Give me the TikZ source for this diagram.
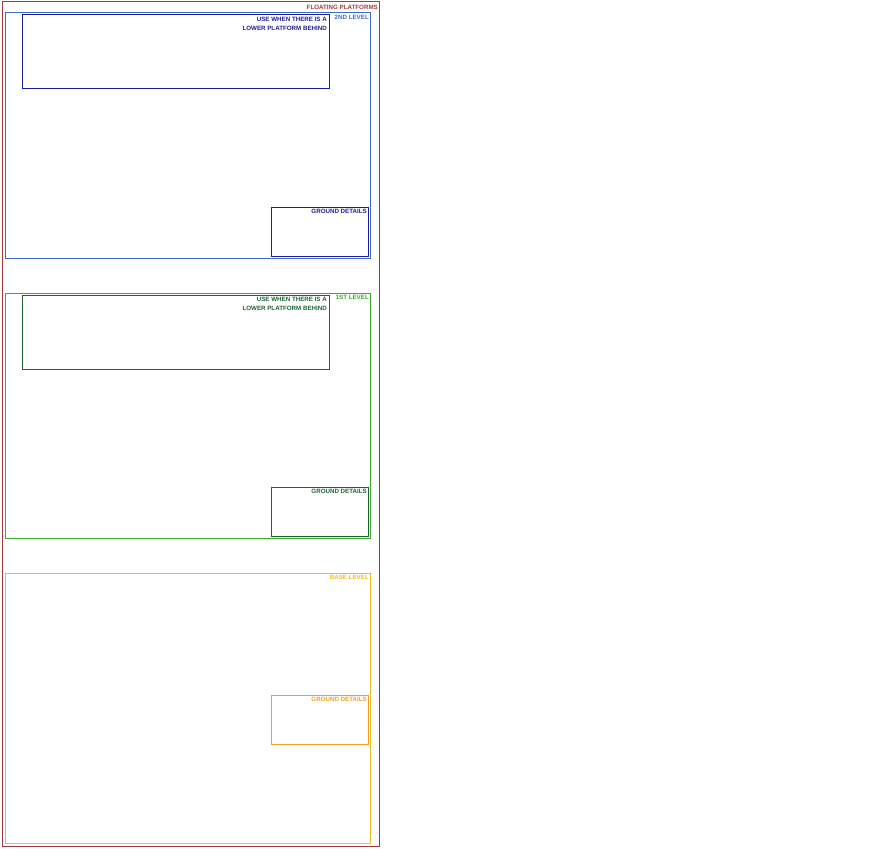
\documentclass[tikz,border=0pt]{standalone}
\usepackage{fontspec}
\setsansfont{Liberation Sans}
\usetikzlibrary{positioning}

\definecolor{frameRed}{HTML}{A03C3C}
\definecolor{lvlBlue}{HTML}{3C6CC8}
\definecolor{navy}{HTML}{1E1E96}
\definecolor{lvlGreen}{HTML}{3CA82C}
\definecolor{darkGreen}{HTML}{1E6432}
\definecolor{lvlYellow}{HTML}{F0BE1E}
\definecolor{groundOrange}{HTML}{F0A028}

\begin{document}
\begin{tikzpicture}[
        x=1pt, y=-1pt,
        box/.style={draw, rectangle, inner sep=0pt, outer sep=0pt, line width=1pt, anchor=north west}, % рамка
        lbl/.style={inner sep=0pt, anchor=north east, align=right,
                font=\sffamily\bfseries\fontsize{6.2}{9}\selectfont}, % подпись
        levelbox/.style={box, minimum width=365pt},
        groundbox/.style={box, minimum width=97pt, minimum height=49pt},
        notebox/.style={box, minimum width=307pt, minimum height=74pt},
    ]
    \useasboundingbox (0,0) rectangle (880,848);

    % внешняя рамка
    \node[box, frameRed, minimum width=377pt, minimum height=844pt] (frame) at (2,2) {};
    \node[lbl, text=frameRed] (frameLbl) at ([shift={(-1pt,-3pt)}]frame.north east) {FLOATING PLATFORMS};

    % 2nd level
    \node[levelbox, lvlBlue, minimum height=245pt] (lvlTwo) at (5,13) {};
    \node[lbl, text=lvlBlue] (lvlTwoLbl) at ([shift={(-1pt,-2pt)}]lvlTwo.north east) {2ND LEVEL};
    \node[notebox, navy] (noteTwo) at (22,15) {};
    \node[lbl, text=navy] (noteTwoLbl) at ([shift={(-2pt,-2pt)}]noteTwo.north east) {USE WHEN THERE IS A\\LOWER PLATFORM BEHIND};
    \node[groundbox, navy] (groundTwo) at (271,207) {};
    \node[lbl, text=navy] (groundTwoLbl) at ([shift={(-1pt,-2pt)}]groundTwo.north east) {GROUND DETAILS};

    % 1st level
    \node[levelbox, lvlGreen, minimum height=245pt] (lvlOne) at (5,293) {};
    \node[lbl, text=lvlGreen] (lvlOneLbl) at ([shift={(-1pt,-2pt)}]lvlOne.north east) {1ST LEVEL};
    \node[notebox, darkGreen] (noteOne) at (22,295) {};
    \node[lbl, text=darkGreen] (noteOneLbl) at ([shift={(-2pt,-2pt)}]noteOne.north east) {USE WHEN THERE IS A\\LOWER PLATFORM BEHIND};
    \node[groundbox, darkGreen] (groundOne) at (271,487) {};
    \node[lbl, text=darkGreen] (groundOneLbl) at ([shift={(-1pt,-2pt)}]groundOne.north east) {GROUND DETAILS};

    % base level
    \node[levelbox, lvlYellow, minimum height=270pt] (lvlBase) at (5,573) {};
    \node[lbl, text=lvlYellow] (lvlBaseLbl) at ([shift={(-1pt,-2pt)}]lvlBase.north east) {BASE LEVEL};
    \node[groundbox, groundOrange] (groundBase) at (271,695) {};
    \node[lbl, text=groundOrange] (groundBaseLbl) at ([shift={(-1pt,-2pt)}]groundBase.north east) {GROUND DETAILS};
\end{tikzpicture}
\end{document}
